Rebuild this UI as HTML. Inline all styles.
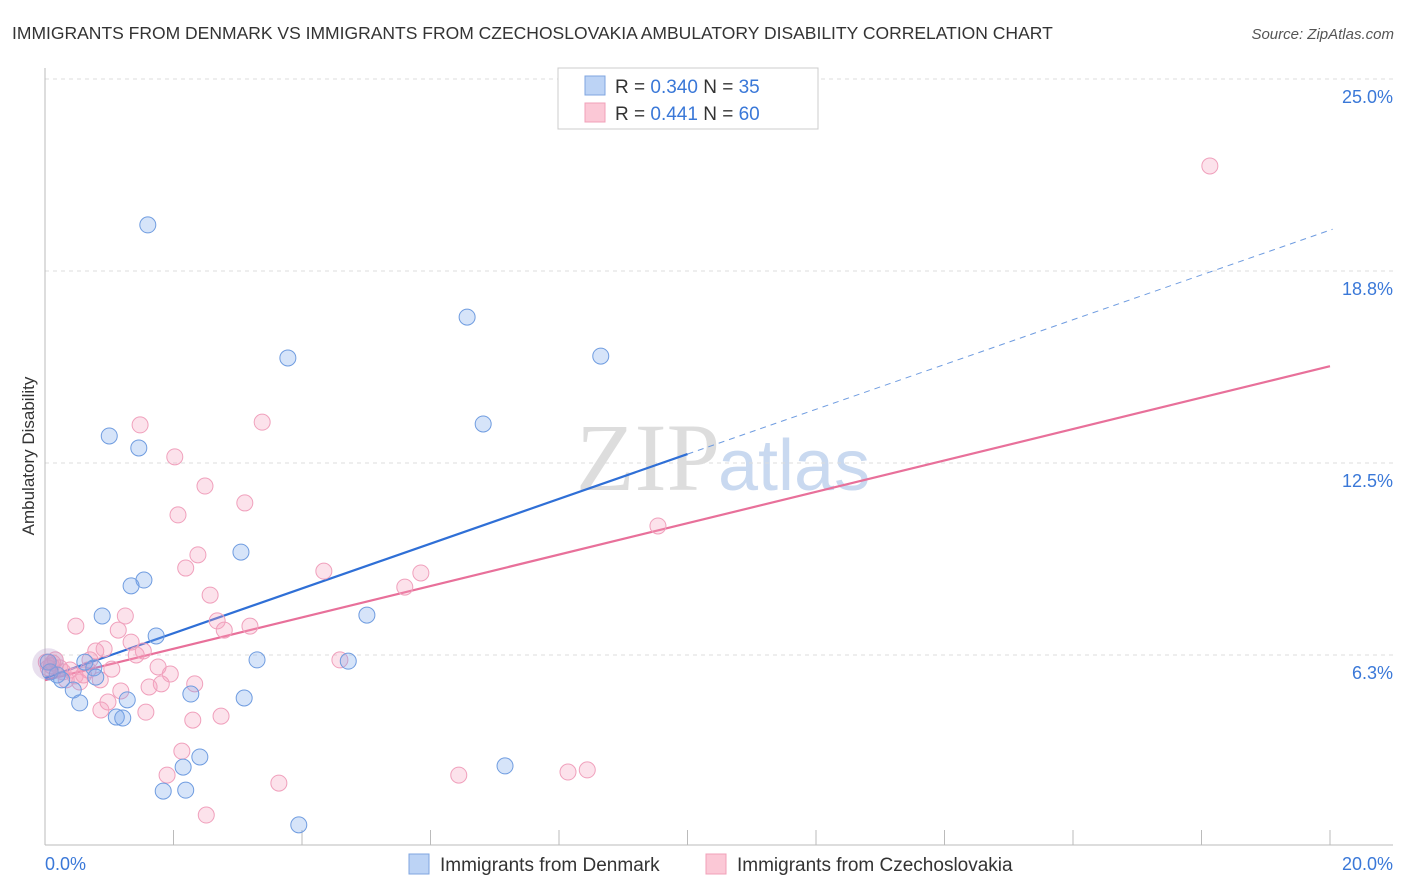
<!DOCTYPE html>
<html><head><meta charset="utf-8"><style>
body{margin:0;background:#fff;font-family:"Liberation Sans",sans-serif}
svg{display:block}
</style></head><body>
<svg id="chart" width="1406" height="892" viewBox="0 0 1406 892" xmlns="http://www.w3.org/2000/svg">
<text x="12" y="39" font-size="17.5" fill="#333">IMMIGRANTS FROM DENMARK VS IMMIGRANTS FROM CZECHOSLOVAKIA AMBULATORY DISABILITY CORRELATION CHART</text>
<text x="1394" y="39" font-size="15" fill="#555" text-anchor="end" font-style="italic">Source: ZipAtlas.com</text>
<text x="720" y="490" font-size="96" text-anchor="end" fill="#ddd" font-family="Liberation Serif,serif">ZIP</text>
<text x="718" y="490" font-size="72" fill="#c9d9f0">atlas</text>
<text transform="translate(34,456) rotate(-90)" font-size="17" fill="#333" text-anchor="middle">Ambulatory Disability</text>
<g id="grid"></g><g id="axes"></g><g id="lines"></g><g id="pts"></g>
<g>
<rect x="558" y="68" width="260" height="61" fill="#fff" stroke="#ccc"/>
<rect x="585" y="76" width="20" height="19" fill="#bcd3f5" stroke="#7fa6e0"/>
<rect x="585" y="103" width="20" height="19" fill="#fbc8d6" stroke="#f0a0b8"/>
<text x="615" y="93" font-size="19" fill="#333">R = <tspan fill="#3a78d8">0.340</tspan>   N = <tspan fill="#3a78d8">35</tspan></text>
<text x="615" y="120" font-size="19" fill="#333">R =  <tspan fill="#3a78d8">0.441</tspan>   N = <tspan fill="#3a78d8">60</tspan></text>
</g>
<g>
<rect x="409" y="854" width="20" height="20" fill="#bcd3f5" stroke="#7fa6e0"/>
<text x="440" y="871" font-size="19" fill="#333">Immigrants from Denmark</text>
<rect x="706" y="854" width="20" height="20" fill="#fbc8d6" stroke="#f0a0b8"/>
<text x="737" y="871" font-size="19" fill="#333">Immigrants from Czechoslovakia</text>
</g>
</svg>
<script>
const blueX=[1.60,6.57,3.78,8.65,6.82,1.00,1.46,3.05,1.54,1.34,0.89,5.01,1.73,3.30,4.72,0.62,0.05,0.76,0.79,0.19,0.44,0.54,1.28,2.27,3.10,1.11,1.21,2.41,2.15,7.16,1.84,2.19,3.95,0.08,0.26];
const blueY=[20.25,17.25,15.92,15.98,13.77,13.38,12.99,9.60,8.69,8.50,7.52,7.55,6.87,6.09,6.05,6.02,6.02,5.83,5.53,5.60,5.11,4.69,4.79,4.98,4.85,4.23,4.20,2.93,2.60,2.64,1.82,1.85,0.72,5.70,5.44];
const pinkX=[18.13,3.38,1.48,2.02,2.49,3.11,2.07,9.54,2.38,2.19,4.34,5.85,5.60,2.57,1.25,2.68,3.19,2.79,0.48,1.14,1.34,0.79,0.92,1.53,1.42,4.59,1.76,1.95,1.04,0.67,0.12,0.23,0.05,0.33,0.54,2.33,1.81,1.62,1.18,0.98,0.87,1.57,2.74,2.30,2.13,1.90,6.44,8.14,8.44,3.64,2.51,0.39,0.16,0.28,0.70,0.02,0.47,0.86,0.10,0.60];
const pinkY=[22.17,13.83,13.74,12.70,11.75,11.20,10.81,10.45,9.51,9.08,8.98,8.92,8.46,8.20,7.52,7.36,7.19,7.06,7.19,7.06,6.67,6.38,6.45,6.38,6.25,6.09,5.86,5.63,5.79,5.76,5.99,5.83,5.83,5.44,5.37,5.31,5.31,5.21,5.08,4.72,4.46,4.39,4.26,4.13,3.12,2.34,2.34,2.44,2.51,2.08,1.04,5.76,6.09,5.70,6.09,6.02,5.57,5.44,5.90,5.60];
const yTicks=[25,18.75,12.5,6.25];
const yTickLabels=["25.0%","18.8%","12.5%","6.3%"];
const xTicks=[0,2,4,6,8,10,12,14,16,18,20];
const blueTrend=[5.50,0.729]; // intercept, slope
const pinkTrend=[5.43,0.511];
const xs=v=>45+v*64.25, ys=v=>79+(25-v)*30.72;
const NS="http://www.w3.org/2000/svg";
function mk(p,t,a){const e=document.createElementNS(NS,t);for(const k in a)e.setAttribute(k,a[k]);document.getElementById(p).appendChild(e);return e;}
yTicks.forEach((v,i)=>{
 const l=mk('grid','line',{x1:45,x2:1393,y1:ys(v),y2:ys(v),stroke:'#ddd','stroke-dasharray':'4,4'});
 
 
 const t=mk('grid','text',{x:1393,y:ys(v)+24,'font-size':18,fill:'#3a78d8','text-anchor':'end'});
 t.textContent=yTickLabels[i];
 
 
});
mk('axes','line',{x1:45,x2:45,y1:68,y2:845,stroke:'#bbb'});
const ax=mk('axes','line',{x1:45,x2:1393,y1:845,y2:845,stroke:'#bbb'});


xTicks.forEach(v=>{const t=mk('axes','line',{x1:xs(v),x2:xs(v),y1:830,y2:845,stroke:'#bbb'});
 
 });
const x0=mk('axes','text',{x:45,y:870,'font-size':18,fill:'#3a78d8'});x0.textContent='0.0%';


const x1=mk('axes','text',{x:1393,y:870,'font-size':18,fill:'#3a78d8','text-anchor':'end'});x1.textContent='20.0%';


function pts(X,Y,fill,stroke,name){X.forEach((x,i)=>{const c=mk('pts','circle',{cx:xs(x),cy:ys(Y[i]),r:8,fill:fill,stroke:stroke,'stroke-width':1});
 
 });}
pts(pinkX,pinkY,'rgba(246,160,190,0.3)','#f0a0bc','czechoslovakia-point');
pts(blueX,blueY,'rgba(120,165,235,0.3)','#6f9ce0','denmark-point');
const big=mk('pts','circle',{cx:xs(0.05),cy:ys(5.95),r:16,fill:'rgba(180,150,200,0.3)',stroke:'none'});


const bl=mk('lines','line',{x1:xs(0),y1:ys(blueTrend[0]),x2:xs(10),y2:ys(blueTrend[0]+10*blueTrend[1]),stroke:'#2f6fd6','stroke-width':2.2});


const bd=mk('lines','line',{x1:xs(10),y1:ys(blueTrend[0]+10*blueTrend[1]),x2:xs(20.04),y2:ys(blueTrend[0]+20.04*blueTrend[1]),stroke:'#6f9ce0','stroke-width':1,'stroke-dasharray':'6,5'});


const pl=mk('lines','line',{x1:xs(0),y1:ys(pinkTrend[0]),x2:xs(20),y2:ys(pinkTrend[0]+20*pinkTrend[1]),stroke:'#e8709a','stroke-width':2.2});


</script>
</body></html>
